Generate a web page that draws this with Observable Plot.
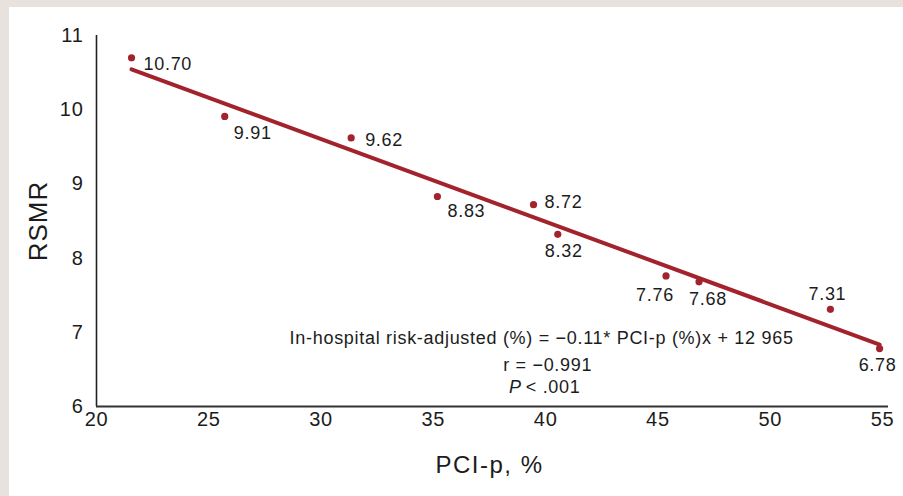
<!DOCTYPE html>
<html>
<head>
<meta charset="utf-8">
<script src="https://cdn.jsdelivr.net/npm/d3@7"></script>
<script src="https://cdn.jsdelivr.net/npm/@observablehq/plot@0.6"></script>
<style>
  html, body { margin: 0; padding: 0; }
  body { width: 903px; height: 496px; background: #e7e2dd; position: relative; overflow: hidden; }
  #panel { position: absolute; left: 9px; top: 7px; width: 894px; height: 489px; background: #ffffff; }
  #panel svg text { letter-spacing: 0.7px; }
</style>
</head>
<body>
<div id="panel"></div>
<script>
// ---- data ----
const pci = [21.56, 25.71, 31.34, 35.18, 39.46, 40.54, 45.36, 46.83, 52.68, 54.87];
const rsmr = [10.70, 9.91, 9.62, 8.83, 8.72, 8.32, 7.76, 7.68, 7.31, 6.78];
const pointLabels = ["10.70", "9.91", "9.62", "8.83", "8.72", "8.32", "7.76", "7.68", "7.31", "6.78"];
const xTicks = [20, 25, 30, 35, 40, 45, 50, 55];
const yTicks = [6, 7, 8, 9, 10, 11];
const xTitle = "PCI-p, %";
const yTitle = "RSMR";
const equationText = "In-hospital risk-adjusted (%) = \u22120.11* PCI-p (%)x + 12 965";
const rText = "r = \u22120.991";
const pItalic = "P";
const pText = "< .001";

// ---- style / placement ----
const red = "#a3232d";
const ink = "#1c1c1c";
const font = "'Liberation Sans', Arial, sans-serif";
// label offset from its dot: [textAnchor, dx, dy]
const placement = {
  "10.70": ["start", 12, 6],
  "9.91": ["middle", 28, 17],
  "9.62": ["start", 14, 2],
  "8.83": ["middle", 29, 15],
  "8.72": ["start", 11, -2],
  "8.32": ["middle", 6, 17],
  "7.76": ["middle", -11, 19],
  "7.68": ["middle", 9, 17],
  "7.31": ["middle", -3, -15],
  "6.78": ["middle", -2, 17]
};

const points = pci.map((x, i) => ({x, y: rsmr[i], label: pointLabels[i]}));

const labelMarks = points.map(p => {
  const [anchor, dx, dy] = placement[p.label];
  return Plot.text([p], {x: "x", y: "y", text: "label", textAnchor: anchor, dx, dy,
    fontSize: 18, fill: ink});
});

const chart = Plot.plot({
  width: 894,
  height: 489,
  marginLeft: 87,
  marginRight: 21,
  marginTop: 28,
  marginBottom: 90,
  style: {fontFamily: font, fontSize: "20px", color: ink, background: "transparent", overflow: "visible"},
  x: {domain: [20, 55], label: null},
  y: {domain: [6, 11], label: null},
  marks: [
    Plot.axisX({ticks: xTicks, tickFormat: d => String(d), tickSize: 0, tickPadding: 5, fontSize: 20, label: null}),
    Plot.axisY({ticks: yTicks, tickFormat: d => String(d), tickSize: 0, tickPadding: 13, fontSize: 20, label: null}),
    Plot.ruleX([20], {stroke: "#222", strokeWidth: 1.6}),
    Plot.ruleY([6], {stroke: "#333", strokeWidth: 2.2, insetRight: -6}),
    Plot.linearRegressionY(points, {x: "x", y: "y", stroke: red, strokeWidth: 4, ci: 0}),
    Plot.dot(points, {x: "x", y: "y", r: 3.6, fill: red, stroke: "none"}),
    ...labelMarks,
    Plot.text([equationText], {x: 39.82, y: 6.916, text: d => d, textAnchor: "middle", fontSize: 18, fill: ink}),
    Plot.text([rText], {x: 40.09, y: 6.553, text: d => d, textAnchor: "middle", fontSize: 18, fill: ink}),
    Plot.text([pItalic], {x: 38.98, y: 6.256, text: d => d, textAnchor: "end", dx: -1, fontSize: 18, fontStyle: "italic", fill: ink}),
    Plot.text([pText], {x: 38.98, y: 6.256, text: d => d, textAnchor: "start", dx: 3, fontSize: 18, fill: ink}),
    Plot.text([yTitle], {frameAnchor: "left", textAnchor: "middle", rotate: -90, dx: -58, text: d => d, fontSize: 26, fill: ink}),
    Plot.text([xTitle], {frameAnchor: "bottom", textAnchor: "middle", dy: 66, text: d => d, fontSize: 24, fill: ink})
  ]
});

// wider tracking for the two axis titles
chart.querySelectorAll("text").forEach(t => {
  if (t.textContent === xTitle) t.style.letterSpacing = "1.5px";
  if (t.textContent === yTitle) t.style.letterSpacing = "1px";
});

document.getElementById("panel").appendChild(chart);
</script>
</body>
</html>
